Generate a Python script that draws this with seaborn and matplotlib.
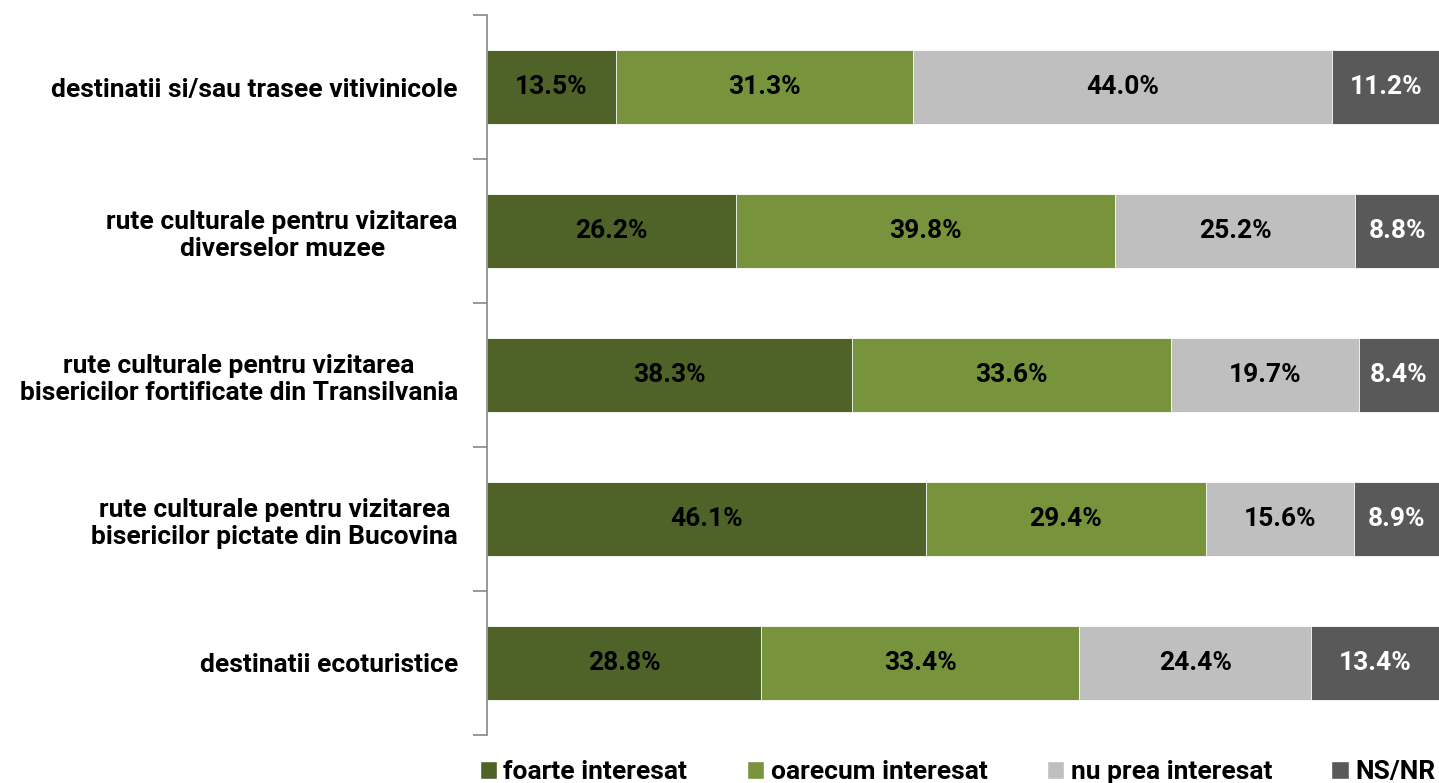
import numpy as np
import pandas as pd
import matplotlib
matplotlib.use('Agg')
import matplotlib.pyplot as plt
import seaborn as sns
from matplotlib.patches import Patch

# Data
categories = ['destinatii si/sau trasee vitivinicole',
              'rute culturale pentru vizitarea\ndiverselor muzee',
              'rute culturale pentru vizitarea\nbisericilor fortificate din Transilvania',
              'rute culturale pentru vizitarea\nbisericilor pictate din Bucovina',
              'destinatii ecoturistice']
series_names = ['foarte interesat', 'oarecum interesat', 'nu prea interesat', 'NS/NR']
foarte = [13.5, 26.2, 38.3, 46.1, 28.8]
oarecum = [31.3, 39.8, 33.6, 29.4, 33.4]
nu_prea = [44.0, 25.2, 19.7, 15.6, 24.4]
ns_nr = [11.2, 8.8, 8.4, 8.9, 13.4]

colors = ['#4F6228', '#77933C', '#BFBFBF', '#595959']
text_colors = ['black', 'black', 'black', 'white']

sns.set_style('white')
plt.rcParams['font.family'] = ['Roboto', 'DejaVu Sans']
plt.rcParams['text.color'] = 'black'
plt.rcParams['ytick.labelcolor'] = 'black'

df = pd.DataFrame({'cat': categories, series_names[0]: foarte, series_names[1]: oarecum,
                   series_names[2]: nu_prea, series_names[3]: ns_nr})
cum = df[series_names].cumsum(axis=1)

fig = plt.figure(figsize=(14.39, 7.83), dpi=100)
ax = fig.add_axes([487 / 1439, 1 - 735 / 783, 1 - 487 / 1439, (735 - 15) / 783])

# stacked bars: draw cumulative totals from the right-most series backwards
for i in reversed(range(len(series_names))):
    sns.barplot(x=cum[series_names[i]], y=df['cat'], orient='h', color=colors[i],
                width=0.51, edgecolor='white', linewidth=0.6, ax=ax, saturation=1)

for i, name in enumerate(series_names):
    for j in range(len(categories)):
        val = df[name][j]
        center = cum[name][j] - val / 2
        ax.text(center, j, f'{val:.1f}%', ha='center', va='center', fontsize=19,
                fontweight='bold', color=text_colors[i])

ax.set_xlim(0, 100)
ax.set_ylim(len(categories) - 0.5, -0.5)
ax.set_xlabel('')
ax.set_ylabel('')
ax.set_xticks([])
ax.tick_params(axis='y', which='major', length=0, pad=21, labelsize=19, labelcolor='black')
for lab in ax.get_yticklabels():
    lab.set_fontweight('bold')
    lab.set_horizontalalignment('right')
    lab.set_multialignment('center')
ax.set_yticks(np.arange(-0.5, len(categories), 1), minor=True)
ax.tick_params(axis='y', which='minor', left=True, length=10, color='#888888', width=1.2)
for s in ['top', 'right', 'bottom']:
    ax.spines[s].set_visible(False)
ax.spines['left'].set_color('#888888')
ax.spines['left'].set_linewidth(1.2)

handles = [Patch(facecolor=c, label=n) for c, n in zip(colors, series_names)]
leg = fig.legend(handles=handles, loc='center left', bbox_to_anchor=(477 / 1439, 1 - 772 / 783),
                 ncol=4, frameon=False, prop={'size': 19, 'weight': 'bold'},
                 handlelength=0.65, handleheight=0.65, handletextpad=0.25, columnspacing=2.25,
                 borderpad=0.1, borderaxespad=0)

fig.savefig('out.png', dpi=100)
